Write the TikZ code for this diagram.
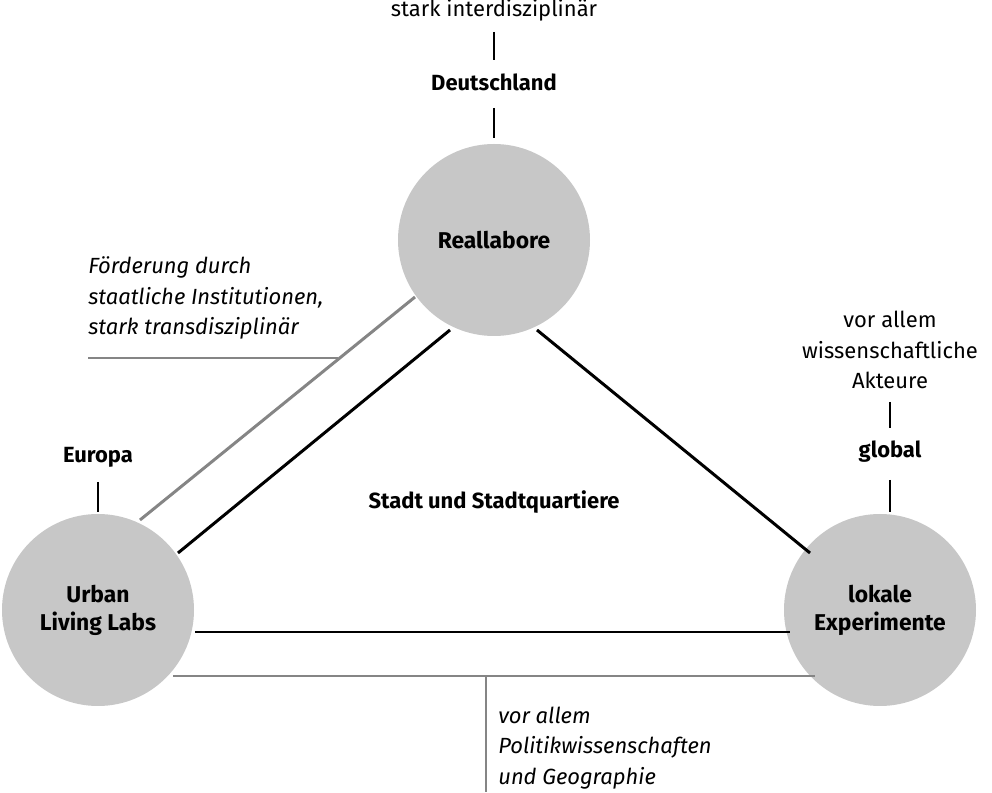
\documentclass[tikz,border=0pt]{standalone}
\usepackage{fontspec}
\setmainfont{Fira Sans}
\begin{document}
\begin{tikzpicture}[x=0.02cm,y=-0.02cm,
  circ/.style={circle,fill=black!22,minimum size=192*0.02cm,inner sep=0pt,align=center,font=\fontsize{13}{16}\selectfont\bfseries},
  blk/.style={line width=1.7pt,black},
  gry/.style={line width=1.7pt,black!48},
  lab/.style={font=\fontsize{12.5}{17.5}\selectfont,inner sep=0pt},
  blab/.style={lab,font=\fontsize{12.5}{17.5}\selectfont\bfseries}]
\useasboundingbox (0,0) rectangle (992,793);
\node[circ] (R) at (494,240) {Reallabore};
\node[circ] (U) at (98,610) {Urban\\Living Labs};
\node[circ] (L) at (880,610) {lokale\\Experimente};
\coordinate (b1) at (450,330); \coordinate (b2) at (178,553);
\coordinate (b3) at (537,330); \coordinate (b4) at (810,553);
\coordinate (b5) at (195,632); \coordinate (b6) at (790,632);
\draw[blk] (b1)--(b2); \draw[blk] (b3)--(b4); \draw[blk] (b5)--(b6);
\coordinate (g1) at (415,297); \coordinate (g2) at (140,520);
\coordinate (g3) at (338,358); \coordinate (g4) at (88,358);
\draw[gry] (g1)--(g2); \draw[gry] (g3)--(g4);
\coordinate (g5) at (173,676); \coordinate (g6) at (815,676);
\coordinate (g7) at (486,676); \coordinate (g8) at (486,792);
\draw[gry] (g5)--(g6); \draw[gry] (g7)--(g8);
\node[lab] (t1) at (494,10) {stark interdisziplinär};
\node[blab] (t2) at (494,82) {Deutschland};
\draw[blk] (494,32) coordinate (a1) -- (494,60) coordinate (a2);
\draw[blk] (494,108) coordinate (a3) -- (494,138) coordinate (a4);
\node[blab] (eu) at (98,457) {Europa};
\draw[blk] (98,482) coordinate (e1) -- (98,512) coordinate (e2);
\node[lab,align=center] (va) at (890,350) {vor allem\\wissenschaftliche\\Akteure};
\draw[blk] (890,402) coordinate (v1) -- (890,428) coordinate (v2);
\node[blab] (gl) at (890,452) {global};
\draw[blk] (890,480) coordinate (v3) -- (890,512) coordinate (v4);
\node[lab,align=left,anchor=west,font=\fontsize{12.5}{17.5}\selectfont\itshape] (fd) at (88,298) {Förderung durch\\staatliche Institutionen,\\stark transdisziplinär};
\node[lab,align=left,anchor=west,font=\fontsize{12.5}{17.5}\selectfont\itshape] (pw) at (498,748) {vor allem\\Politikwissenschaften\\und Geographie};
\node[blab] (st) at (494,502) {Stadt und Stadtquartiere};
\end{tikzpicture}
\end{document}
